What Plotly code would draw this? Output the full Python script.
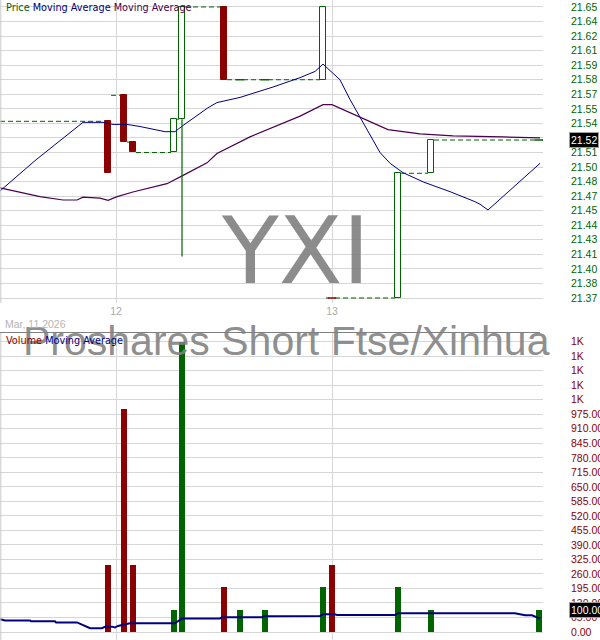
import pandas as pd
import plotly.graph_objects as go

# intraday bars
bar_time = ["2026-03-11 23:07", "2026-03-12 00:53", "2026-03-12 01:53", "2026-03-12 06:27",
            "2026-03-12 07:20", "2026-03-12 12:00", "2026-03-12 13:47", "2026-03-12 16:33",
            "2026-03-12 23:00", "2026-03-13 00:00", "2026-03-13 07:20", "2026-03-13 11:00",
            "2026-03-13 23:00"]
bar_open = [21.540, 21.565, 21.520, 21.510, 21.542, 21.650, 21.580, 21.580, 21.580, 21.370, 21.370, 21.490, 21.522]
bar_high = [21.540, 21.565, 21.520, 21.542, 21.650, 21.650, 21.580, 21.580, 21.650, 21.370, 21.490, 21.522, 21.522]
bar_low = [21.490, 21.520, 21.510, 21.510, 21.410, 21.580, 21.580, 21.580, 21.580, 21.370, 21.370, 21.490, 21.522]
bar_close = [21.490, 21.520, 21.510, 21.542, 21.650, 21.580, 21.580, 21.580, 21.650, 21.370, 21.490, 21.522, 21.522]
bar_volume = [300, 1000, 300, 100, 1300, 200, 100, 100, 200, 300, 200, 100, 100]

# price moving averages
ma1_time = ["2026-03-11 11:07", "2026-03-11 15:07", "2026-03-11 20:20", "2026-03-11 22:33",
            "2026-03-11 23:40", "2026-03-12 01:13", "2026-03-12 02:40", "2026-03-12 05:27",
            "2026-03-12 06:33", "2026-03-12 07:27", "2026-03-12 10:13", "2026-03-12 11:13",
            "2026-03-12 13:47", "2026-03-12 17:27", "2026-03-12 20:27", "2026-03-12 22:07",
            "2026-03-12 23:00", "2026-03-12 23:47", "2026-03-13 00:53", "2026-03-13 02:00",
            "2026-03-13 03:40", "2026-03-13 05:20", "2026-03-13 06:27", "2026-03-13 07:53",
            "2026-03-13 10:13", "2026-03-13 13:07", "2026-03-13 15:53", "2026-03-13 16:27",
            "2026-03-13 17:20", "2026-03-13 19:40", "2026-03-13 23:07"]
ma1_value = [21.473, 21.503, 21.539, 21.539, 21.537, 21.537, 21.535, 21.530, 21.530, 21.536,
             21.553, 21.558, 21.563, 21.573, 21.582, 21.588, 21.595, 21.589, 21.580, 21.561,
             21.535, 21.510, 21.4996, 21.4906, 21.4814, 21.4723, 21.4627, 21.4602, 21.4547,
             21.473, 21.4996]

ma2_time = ["2026-03-11 11:07", "2026-03-11 15:33", "2026-03-11 18:07", "2026-03-11 19:40",
            "2026-03-11 20:20", "2026-03-11 22:13", "2026-03-11 23:07", "2026-03-12 00:07",
            "2026-03-12 01:53", "2026-03-12 05:40", "2026-03-12 07:27", "2026-03-12 10:07",
            "2026-03-12 11:13", "2026-03-12 14:53", "2026-03-12 20:27", "2026-03-12 23:00",
            "2026-03-13 00:00", "2026-03-13 03:07", "2026-03-13 06:13", "2026-03-13 09:47",
            "2026-03-13 13:27", "2026-03-13 19:00", "2026-03-13 23:07"]
ma2_value = [21.476, 21.4675, 21.4643, 21.4643, 21.467, 21.466, 21.464, 21.4675, 21.472, 21.480,
             21.488, 21.500, 21.509, 21.525, 21.545, 21.556, 21.556, 21.544, 21.532, 21.528,
             21.526, 21.525, 21.524]

# volume moving average
vma_time = ["2026-03-11 11:07", "2026-03-11 11:40", "2026-03-11 14:27", "2026-03-11 14:33",
            "2026-03-11 17:13", "2026-03-11 17:20", "2026-03-11 19:40", "2026-03-11 21:07",
            "2026-03-11 22:27", "2026-03-11 22:47", "2026-03-11 23:33", "2026-03-11 23:53",
            "2026-03-12 00:13", "2026-03-12 00:53", "2026-03-12 01:33", "2026-03-12 06:33",
            "2026-03-12 07:20", "2026-03-12 11:33", "2026-03-12 11:47", "2026-03-12 16:13",
            "2026-03-12 16:27", "2026-03-12 22:40", "2026-03-12 23:00", "2026-03-13 00:20",
            "2026-03-13 00:33", "2026-03-13 07:00", "2026-03-13 07:20", "2026-03-13 20:20",
            "2026-03-13 20:53", "2026-03-13 21:27", "2026-03-13 22:13", "2026-03-13 23:07"]
vma_value = [57, 52, 52, 48, 48, 43, 43, 17, 17, 24, 24, 20, 27, 34, 39, 39,
             61, 61, 66, 66, 70, 72, 79, 79, 76, 76, 84, 84, 79, 75, 75, 60]

price_ticks = [21.370, 21.384, 21.398, 21.412, 21.426, 21.440, 21.454, 21.468, 21.482, 21.496,
               21.510, 21.524, 21.538, 21.552, 21.566, 21.580, 21.594, 21.608, 21.622, 21.636, 21.650]
price_labels = ["21.37", "21.38", "21.40", "21.41", "21.43", "21.44", "21.45", "21.47", "21.48", "21.50",
                "21.51", "21.52", "21.54", "21.55", "21.57", "21.58", "21.59", "21.61", "21.62", "21.64", "21.65"]
volume_ticks = [0, 65, 130, 195, 260, 325, 390, 455, 520, 585, 650, 715, 780, 845, 910, 975,
                1040, 1105, 1170, 1235, 1300]
volume_labels = ["0.00", "65.00", "130.00", "195.00", "260.00", "325.00", "390.00", "455.00",
                 "520.00", "585.00", "650.00", "715.00", "780.00", "845.00", "910.00", "975.00",
                 "1K", "1K", "1K", "1K", "1K"]
day_ticks = ["2026-03-12", "2026-03-13"]
day_labels = ["12", "13"]

x_start = "2026-03-11 11:06:40"
x_end = "2026-03-13 23:26:40"

RED = "#8b0000"
GREEN = "#006400"
NAVY = "#000080"
PURPLE = "#4b0050"
GRID = "#d6d6d6"
FONT = "Liberation Sans, Arial, sans-serif"

t = pd.to_datetime(bar_time)
n = len(t)

# up / down colouring (doji compares with previous close)
up = []
prev = None
for o, c in zip(bar_open, bar_close):
    if c != o:
        up.append(c > o)
    else:
        up.append(prev is None or c >= prev)
    prev = c

fig = go.Figure()

# dashed carry-over lines between bars
half = pd.Timedelta(minutes=20)
starts = [pd.Timestamp(x_start)] + [ti + half for ti in t]
ends = [ti - half for ti in t] + [pd.Timestamp(x_end)]
levels = bar_open + [bar_close[-1]]
dash_x, dash_y = [], []
for s, e, lv in zip(starts, ends, levels):
    if e > s:
        dash_x += [s, e, None]
        dash_y += [lv, lv, None]
fig.add_trace(go.Scatter(x=dash_x, y=dash_y, mode="lines",
                         line=dict(color=GREEN, width=1, dash="5px,3px"),
                         hoverinfo="skip", xaxis="x", yaxis="y"))

# moving averages
fig.add_trace(go.Scatter(x=pd.to_datetime(ma2_time), y=ma2_value, mode="lines",
                         line=dict(color=PURPLE, width=1.2), xaxis="x", yaxis="y"))
fig.add_trace(go.Scatter(x=pd.to_datetime(ma1_time), y=ma1_value, mode="lines",
                         line=dict(color=NAVY, width=1), xaxis="x", yaxis="y"))

# wicks
for direction, col in [(True, GREEN), (False, RED)]:
    wx, wy = [], []
    for i in range(n):
        if up[i] != direction:
            continue
        top = max(bar_open[i], bar_close[i])
        bot = min(bar_open[i], bar_close[i])
        if bar_high[i] > top:
            wx += [t[i], t[i], None]
            wy += [top, bar_high[i], None]
        if bar_low[i] < bot:
            wx += [t[i], t[i], None]
            wy += [bar_low[i], bot, None]
    if wx:
        fig.add_trace(go.Scatter(x=wx, y=wy, mode="lines", line=dict(color=col, width=1.2),
                                 hoverinfo="skip", xaxis="x", yaxis="y"))

# candle bodies
body = [i for i in range(n) if bar_open[i] != bar_close[i]]
fig.add_trace(go.Bar(
    x=[t[i] for i in body],
    y=[abs(bar_close[i] - bar_open[i]) for i in body],
    base=[min(bar_open[i], bar_close[i]) for i in body],
    width=pd.Timedelta(minutes=35).total_seconds() * 1000,
    marker=dict(color=["white" if up[i] else RED for i in body],
                line=dict(color=[GREEN if up[i] else RED for i in body], width=1)),
    xaxis="x", yaxis="y"))

# doji ticks
doji = [i for i in range(n) if bar_open[i] == bar_close[i]]
fig.add_trace(go.Scatter(
    x=[t[i] for i in doji], y=[bar_close[i] for i in doji], mode="markers",
    marker=dict(symbol="line-ew", size=6,
                line=dict(color=[GREEN if up[i] else RED for i in doji], width=1.5)),
    xaxis="x", yaxis="y"))

# volume
fig.add_trace(go.Bar(
    x=t, y=bar_volume,
    width=pd.Timedelta(minutes=40).total_seconds() * 1000,
    marker=dict(color=[GREEN if u else RED for u in up], line=dict(width=0)),
    xaxis="x2", yaxis="y2"))
fig.add_trace(go.Scatter(x=pd.to_datetime(vma_time), y=vma_value, mode="lines",
                         line=dict(color=NAVY, width=2), xaxis="x2", yaxis="y2"))

H = 640.0
price_dom = [1 - 303 / H, 1]
vol_dom = [0, 1 - 333 / H]

axis_common = dict(showgrid=True, gridcolor=GRID, gridwidth=1, zeroline=False,
                   showline=False, ticks="", automargin=False, fixedrange=True)

fig.update_layout(
    width=600, height=640,
    margin=dict(l=0, r=57, t=0, b=0),
    paper_bgcolor="white", plot_bgcolor="white",
    showlegend=False, bargap=0, hovermode=False,
    xaxis=dict(type="date", domain=[0, 1], range=[x_start, x_end], anchor="y",
               tickvals=day_ticks, ticktext=day_labels,
               tickfont=dict(family=FONT, size=10.5, color="#a8a8a8"), **axis_common),
    xaxis2=dict(type="date", domain=[0, 1], range=[x_start, x_end], anchor="y2", matches="x",
                tickvals=day_ticks, showticklabels=False, **axis_common),
    yaxis=dict(domain=price_dom, range=[21.3652, 21.6567], side="right", anchor="x",
               tickvals=price_ticks, ticktext=price_labels, ticklabelstandoff=27,
               tickfont=dict(family=FONT, size=10.5, color=GREEN), **axis_common),
    yaxis2=dict(domain=vol_dom, range=[-35.8, 1339], side="right", anchor="x2",
                tickvals=volume_ticks, ticktext=volume_labels, ticklabelstandoff=27,
                tickfont=dict(family=FONT, size=10.5, color=RED), **axis_common),
)

# borders
fig.add_shape(type="line", xref="paper", yref="paper", x0=0.0015, x1=0.0015,
              y0=price_dom[0], y1=1, line=dict(color="#c8c8c8", width=1))
fig.add_shape(type="line", xref="paper", yref="paper", x0=0.0015, x1=0.0015,
              y0=0, y1=vol_dom[1], line=dict(color="#c8c8c8", width=1))

# watermark
fig.add_annotation(text="YXI", xref="paper", yref="paper", x=295.5 / 543, y=1 - 251 / H,
                   xanchor="center", yanchor="middle", showarrow=False,
                   font=dict(family="DejaVu Sans", size=93, color="rgba(128,128,128,0.9)"))
fig.add_annotation(text="Proshares Short Ftse/Xinhua", xref="paper", yref="paper",
                   x=286.5 / 543, y=1 - 341 / H, xanchor="center", yanchor="middle",
                   showarrow=False,
                   font=dict(family=FONT, size=41, color="rgba(128,128,128,0.9)"))
fig.add_shape(type="line", xref="paper", yref="paper", x0=0, x1=540 / 543,
              y0=1 - 332.5 / H, y1=1 - 332.5 / H, line=dict(color="#808080", width=1),
              layer="above")

# panel legends
fig.add_annotation(
    text=(f"<span style='color:{GREEN}'>Price</span> "
          f"<span style='color:{NAVY}'>Moving Average</span> "
          f"<span style='color:{PURPLE}'>Moving Average</span>"),
    xref="paper", yref="paper", x=0.008, y=1 - 7 / H, xanchor="left", yanchor="middle",
    showarrow=False, font=dict(family="DejaVu Sans", size=9.7))
fig.add_annotation(
    text=(f"<span style='color:{RED}'>Volume</span> "
          f"<span style='color:{NAVY}'>Moving Average</span>"),
    xref="paper", yref="paper", x=0.008, y=1 - 340 / H, xanchor="left", yanchor="middle",
    showarrow=False, font=dict(family="DejaVu Sans", size=9.7))
fig.add_annotation(text="Mar, 11 2026", xref="paper", yref="paper", x=0.005, y=1 - 324 / H,
                   xanchor="left", yanchor="middle", showarrow=False,
                   font=dict(family=FONT, size=10.5, color="#b4b4b4"))

# last value boxes
fig.add_annotation(text=f"{bar_close[-1]:.2f}", xref="paper", yref="y", x=569 / 543,
                   y=bar_close[-1], xanchor="left", yanchor="middle", showarrow=False,
                   bgcolor="black", bordercolor="#a0a0a0", borderwidth=1, borderpad=1,
                   font=dict(family=FONT, size=10.5, color="white"))
fig.add_annotation(text=f"{bar_volume[-1]:.2f}", xref="paper", yref="y2", x=569 / 543,
                   y=bar_volume[-1], xanchor="left", yanchor="middle", showarrow=False,
                   bgcolor="black", bordercolor="#a0a0a0", borderwidth=1, borderpad=1,
                   font=dict(family=FONT, size=10.5, color="white"))

fig.write_html("out.html", config={"displayModeBar": False},
               post_script="document.body.style.margin='0';")
